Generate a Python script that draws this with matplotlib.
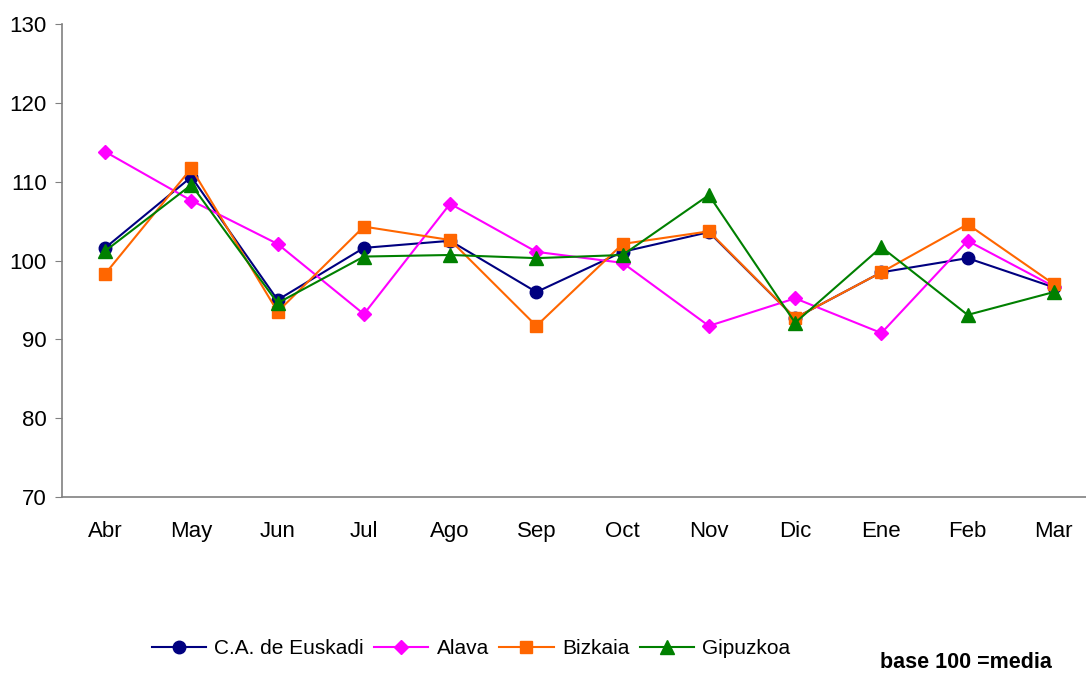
import numpy as np
from matplotlib import pyplot as plt

plt.rcParams['font.family'] = ['Liberation Sans', 'DejaVu Sans']

months = ['Abr', 'May', 'Jun', 'Jul', 'Ago', 'Sep', 'Oct', 'Nov', 'Dic', 'Ene', 'Feb', 'Mar']

euskadi = [101.6, 110.6, 95.0, 101.6, 102.5, 96.0, 101.1, 103.6, 92.7, 98.5, 100.3, 96.6]
alava = [113.8, 107.6, 102.1, 93.2, 107.2, 101.1, 99.7, 91.7, 95.2, 90.8, 102.5, 96.7]
bizkaia = [98.3, 111.7, 93.5, 104.3, 102.6, 91.7, 102.1, 103.7, 92.7, 98.5, 104.6, 97.0]
gipuzkoa = [101.2, 109.6, 94.6, 100.5, 100.7, 100.3, 100.7, 108.3, 92.1, 101.7, 93.1, 96.0]

series = [
    ('C.A. de Euskadi', euskadi, '#000080', 'o', 9),
    ('Alava', alava, '#ff00ff', 'D', 7),
    ('Bizkaia', bizkaia, '#ff6600', 's', 9),
    ('Gipuzkoa', gipuzkoa, '#008000', '^', 10),
]

fig = plt.figure(figsize=(10.86, 6.73), dpi=100)
# axes: left spine at x=62, top at y=24, bottom at y=497 (px)
ax = fig.add_axes([62 / 1086, 1 - 497 / 673, 1035 / 1086, 473 / 673])

x = np.arange(len(months))
for name, vals, col, mk, ms in series:
    ax.plot(x, vals, color=col, marker=mk, markersize=ms, linewidth=1.5,
            label=name, clip_on=False)

ax.set_xlim(-0.5, len(months) - 0.5)
ax.set_ylim(70, 130)
ax.set_yticks(np.arange(70, 131, 10))
ax.set_xticks(x)
ax.set_xticklabels(months)
ax.tick_params(axis='y', labelsize=16, length=5, color='#808080', pad=6)
ax.tick_params(axis='x', labelsize=16, length=0, pad=17)
for s in ['top', 'right']:
    ax.spines[s].set_visible(False)
for s in ['left', 'bottom']:
    ax.spines[s].set_color('#808080')
    ax.spines[s].set_linewidth(1.2)

ax.legend(loc='center', bbox_to_anchor=(471 / 1086, 1 - 649 / 673),
          bbox_transform=fig.transFigure, ncol=4, frameon=False,
          fontsize=15, handlelength=2.6, handletextpad=0.4, columnspacing=0.5)

fig.text(1052 / 1086, 1 - 663 / 673, 'base 100 =media', ha='right', va='center',
         fontsize=15.5, fontweight='bold')

plt.savefig('out.png', dpi=100)
